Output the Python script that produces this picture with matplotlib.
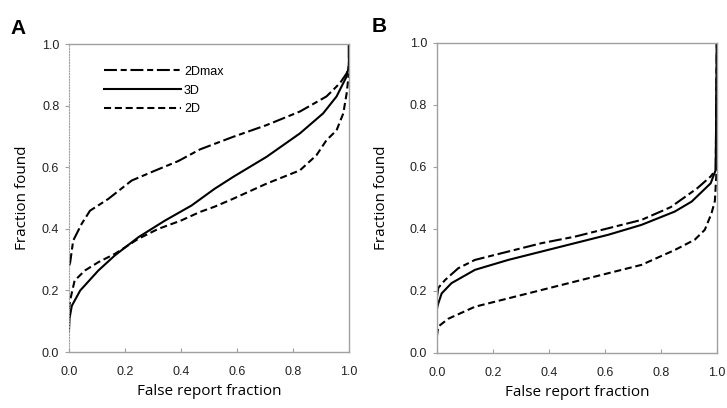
# =====================================================
# BIBLIOTECAS
# =====================================================

import matplotlib
matplotlib.use("Agg")
import matplotlib.pyplot as plt
import matplotlib.ticker as mticker

plt.rcParams['font.family'] = ['Liberation Sans', 'DejaVu Sans']

# =====================================================
# DADOS
# =====================================================

# ----- painel A -----
a_2dmax_x = [0.0, 0.004, 0.015, 0.045, 0.075, 0.14, 0.224, 0.307, 0.39,
             0.468, 0.52, 0.587, 0.706, 0.825, 0.92, 0.968, 0.992, 1.0, 1.0]
a_2dmax_y = [0.28, 0.29, 0.362, 0.416, 0.459, 0.497, 0.557, 0.589, 0.62,
             0.658, 0.676, 0.699, 0.737, 0.781, 0.83, 0.873, 0.905, 0.93, 1.0]

a_3d_x = [0.0, 0.002, 0.01, 0.04, 0.105, 0.164, 0.248, 0.343, 0.438, 0.52,
          0.587, 0.706, 0.825, 0.908, 0.956, 0.992, 1.0, 1.0]
a_3d_y = [0.07, 0.11, 0.15, 0.2, 0.265, 0.314, 0.373, 0.427, 0.476, 0.53,
          0.569, 0.634, 0.71, 0.775, 0.83, 0.895, 0.93, 1.0]

a_2d_x = [0.0, 0.004, 0.02, 0.057, 0.105, 0.164, 0.248, 0.319, 0.4, 0.468,
          0.52, 0.587, 0.706, 0.825, 0.884, 0.92, 0.956, 0.98, 0.992, 1.0]
a_2d_y = [0.14, 0.168, 0.232, 0.265, 0.292, 0.319, 0.368, 0.4, 0.427, 0.455,
          0.472, 0.498, 0.547, 0.59, 0.639, 0.688, 0.72, 0.775, 0.84, 0.905]

# ----- painel B -----
b_2dmax_x = [0.0, 0.005, 0.029, 0.076, 0.136, 0.255, 0.374, 0.493, 0.612,
             0.731, 0.835, 0.93, 0.978, 0.996, 1.0]
b_2dmax_y = [0.18, 0.21, 0.235, 0.273, 0.3, 0.327, 0.354, 0.375, 0.402,
             0.429, 0.47, 0.531, 0.569, 0.59, 1.0]

b_3d_x = [0.0, 0.002, 0.005, 0.017, 0.052, 0.136, 0.255, 0.374, 0.493,
          0.612, 0.731, 0.85, 0.91, 0.978, 0.996, 1.0]
b_3d_y = [0.14, 0.15, 0.16, 0.192, 0.225, 0.268, 0.3, 0.327, 0.354,
          0.381, 0.413, 0.456, 0.488, 0.547, 0.59, 1.0]

b_2d_x = [0.0, 0.005, 0.04, 0.136, 0.255, 0.374, 0.493, 0.612, 0.731,
          0.85, 0.921, 0.957, 0.981, 0.993, 0.998, 1.0]
b_2d_y = [0.055, 0.085, 0.11, 0.149, 0.176, 0.203, 0.23, 0.257, 0.284,
          0.332, 0.365, 0.397, 0.45, 0.49, 0.57, 1.0]

rotulos = ["2Dmax", "3D", "2D"]
ticks = [0.0, 0.2, 0.4, 0.6, 0.8, 1.0]

# =====================================================
# ESTILOS
# =====================================================

cinza = '#a0a0a0'
estilo_2dmax = (0, (6.2, 1.8, 2.9, 1.8))
estilo_2d = (0, (3.4, 1.8))
lw = 1.5

# =====================================================
# FIGURA
# =====================================================

fig = plt.figure(figsize=(7.27, 4.08), dpi=100)

ax_a = fig.add_axes([0.0949, 0.137, 0.385, 0.755])
ax_b = fig.add_axes([0.601, 0.135, 0.385, 0.760])

paineis = [
    (ax_a, "A", -0.21, a_2dmax_x, a_2dmax_y, a_3d_x, a_3d_y, a_2d_x, a_2d_y),
    (ax_b, "B", -0.232, b_2dmax_x, b_2dmax_y, b_3d_x, b_3d_y, b_2d_x, b_2d_y),
]

for ax, letra, x_letra, x1, y1, x2, y2, x3, y3 in paineis:

    ax.plot(x1, y1, color='black', lw=lw, linestyle=estilo_2dmax,
            label=rotulos[0])
    ax.plot(x2, y2, color='black', lw=lw, linestyle='-',
            label=rotulos[1])
    ax.plot(x3, y3, color='black', lw=lw, linestyle=estilo_2d,
            label=rotulos[2])

    ax.set_xlim(0, 1)
    ax.set_ylim(0, 1)

    ax.set_xticks(ticks)
    ax.set_yticks(ticks)
    ax.xaxis.set_major_formatter(mticker.FormatStrFormatter('%.1f'))
    ax.yaxis.set_major_formatter(mticker.FormatStrFormatter('%.1f'))

    for lado in ['top', 'right', 'bottom', 'left']:
        ax.spines[lado].set_color(cinza)
        ax.spines[lado].set_linewidth(1.0)

    ax.tick_params(axis='x', direction='in', length=3, width=0.8,
                   color=cinza, labelsize=9, pad=10, labelcolor='#222222')
    ax.tick_params(axis='y', direction='out', length=3, width=0.8,
                   color=cinza, labelsize=9, pad=4, labelcolor='#222222')

    ax.set_xlabel("False report fraction", fontsize=11,
                  family=['Open Sans', 'DejaVu Sans'])
    ax.set_ylabel("Fraction found", fontsize=11,
                  family=['Open Sans', 'DejaVu Sans'])

    ax.text(x_letra, 1.052, letra, transform=ax.transAxes, fontsize=15,
            fontweight='bold', ha='left', va='center')

# eixo esquerdo pontilhado no painel A
ax_a.spines['left'].set_linestyle((0, (1, 1.5)))
ax_a.spines['left'].set_linewidth(0.8)

ax_a.xaxis.set_label_coords(0.5, -0.103)
ax_b.xaxis.set_label_coords(0.5, -0.103)
ax_a.yaxis.set_label_coords(-0.14, 0.5)
ax_b.yaxis.set_label_coords(-0.17, 0.5)

# -----------------------------------------------------
# LEGENDA (só no painel A)
# -----------------------------------------------------

ax_a.legend(
    loc='upper left',
    bbox_to_anchor=(0.125, 0.93),
    frameon=False,
    fontsize=9,
    handlelength=6.2,
    handletextpad=0.2,
    labelspacing=0.55,
    borderpad=0,
    borderaxespad=0,
)

plt.savefig("out.png", dpi=100)
plt.close(fig)
